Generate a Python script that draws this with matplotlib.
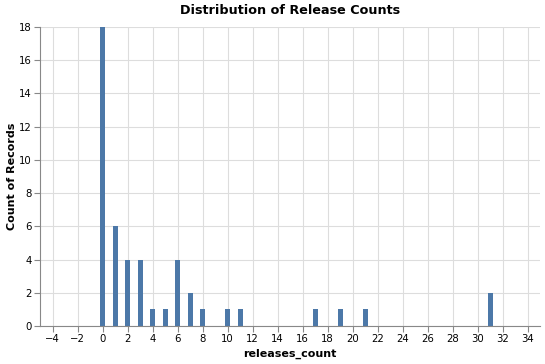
import matplotlib
matplotlib.use("Agg")
import matplotlib.pyplot as plt

releases = [0, 1, 2, 3, 4, 5, 6, 7, 8, 10, 11, 17, 19, 21, 31]
counts = [18, 6, 4, 4, 1, 1, 4, 2, 1, 1, 1, 1, 1, 1, 2]
x_ticks = list(range(-4, 35, 2))
y_ticks = list(range(0, 19, 2))

plt.rcParams["font.family"] = "DejaVu Sans"

fig = plt.figure(figsize=(5.45, 3.64), dpi=100)
ax = fig.add_axes([40 / 545, 1 - 326 / 364, 500 / 545, 299 / 364])

ax.bar(releases, counts, width=0.4, color="#4c78a8", zorder=2)

ax.set_xlim(-5, 35)
ax.set_ylim(0, 18)
ax.set_xticks(x_ticks)
ax.set_yticks(y_ticks)
ax.set_xticklabels([str(t).replace("-", "\u2212") for t in x_ticks])
ax.grid(True, color="#dddddd", linewidth=0.8, zorder=0)
ax.set_axisbelow(True)

for side in ("top", "right"):
    ax.spines[side].set_visible(False)
for side in ("left", "bottom"):
    ax.spines[side].set_color("#888888")
    ax.spines[side].set_linewidth(0.8)
ax.tick_params(colors="#888888", labelcolor="black", labelsize=7.3, length=4, width=0.8, pad=2)

ax.set_xlabel("releases_count", fontsize=8, fontweight="bold", labelpad=3)
ax.set_ylabel("Count of Records", fontsize=8, fontweight="bold", labelpad=1)
ax.set_title("Distribution of Release Counts", fontsize=9.2, fontweight="bold", pad=9)

fig.savefig("out.png", dpi=100)
